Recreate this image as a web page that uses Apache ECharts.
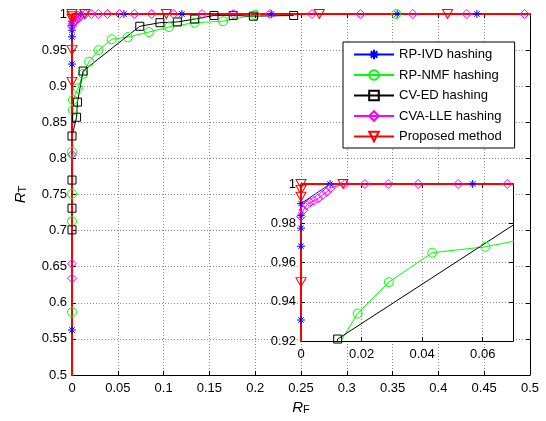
<!DOCTYPE html>
<html><head><meta charset="utf-8">
<script src="https://cdn.jsdelivr.net/npm/echarts@6/dist/echarts.min.js"></script>
<style>html,body{margin:0;padding:0;background:#fff}#c{width:546px;height:421px}</style>
</head><body><div id="c"></div>
<script>
// ---- data ----
const ivdRF = [0, 0, 0, 0, 0, 0, 0.0096, 0.0567, 0.12, 0.218, 0.355, 0.442];
const ivdRT = [0.5623, 0.9307, 0.9683, 0.9775, 0.984, 0.99, 1, 1, 1, 1, 1, 1];

const nmfRF = [0, 0, 0, 0, 0.001, 0.001, 0.0065, 0.012, 0.0187, 0.029, 0.0433, 0.0609, 0.084, 0.106, 0.134, 0.165, 0.2, 0.354];
const nmfRT = [0.587, 0.713, 0.751, 0.809, 0.867, 0.881, 0.897, 0.917, 0.934, 0.95, 0.965, 0.968, 0.975, 0.982, 0.988, 0.99, 0.999, 1];

const edRF = [0, 0, 0, 0, 0.005, 0.006, 0.0121, 0.074, 0.096, 0.115, 0.134, 0.155, 0.176, 0.198, 0.242];
const edRT = [0.701, 0.731, 0.77, 0.831, 0.857, 0.878, 0.921, 0.983, 0.988, 0.989, 0.993, 0.998, 0.998, 0.997, 0.998];

const lleRF = [0, 0, 0, 0, 0.0008, 0.0019, 0.003, 0.0043, 0.0057, 0.0072, 0.0085, 0.0098, 0.0145, 0.0211, 0.0288, 0.0387, 0.0519, 0.0681, 0.087, 0.111, 0.142, 0.176, 0.216, 0.262, 0.315, 0.372, 0.431, 0.494];
const lleRT = [0.634, 0.654, 0.805, 0.9834, 0.9867, 0.9893, 0.9906, 0.9914, 0.9927, 0.9944, 0.996, 0.998, 1, 1, 1, 1, 1, 1, 1, 1, 1, 1, 1, 1, 1, 1, 1, 1];

const propRF = [0, 0, 0, 0, 0, 0, 0.0139, 0.103, 0.27, 0.41, 1];
const propRT = [0.45, 0.906, 0.95, 0.9935, 0.997, 1, 1, 1, 1, 1, 1];

const names = ['RP-IVD hashing', 'RP-NMF hashing', 'CV-ED hashing', 'CVA-LLE hashing', 'Proposed method'];

const mainXTicks = { min: 0, max: 0.5, interval: 0.05 };
const mainYTicks = { min: 0.5, max: 1, interval: 0.05 };
const insetXTicks = { min: 0, max: 0.07, interval: 0.02 };
const insetYTicks = { min: 0.92, max: 1, interval: 0.02 };

// ---- chart ----
const FONT = 'Liberation Sans';
const star = 'path://M5,0L5,10M0,5L10,5M1.6,1.6L8.4,8.4M1.6,8.4L8.4,1.6';
const defs = [
  { rf: ivdRF, rt: ivdRT, color: '#0000ff', symbol: star, size: 8, rot: 0 },
  { rf: nmfRF, rt: nmfRT, color: '#00ff00', symbol: 'circle', size: 9, rot: 0 },
  { rf: edRF, rt: edRT, color: '#000000', symbol: 'rect', size: 8, rot: 0 },
  { rf: lleRF, rt: lleRT, color: '#ff00ff', symbol: 'diamond', size: [9, 9], rot: 0 },
  { rf: propRF, rt: propRT, color: '#ff0000', symbol: 'triangle', size: [10, 9], rot: 180 }
];

function mkSeries(d, i, inset) {
  return {
    type: 'line', name: names[i],
    xAxisIndex: inset ? 2 : 0, yAxisIndex: inset ? 2 : 0,
    data: d.rf.map((x, k) => [x, d.rt[k]]),
    symbol: d.symbol, symbolSize: d.size, symbolRotate: d.rot,
    showAllSymbol: true, clip: true, silent: true,
    lineStyle: { color: d.color, width: i === 4 ? 2 : 1 },
    itemStyle: { color: 'rgba(0,0,0,0)', borderColor: d.color, borderWidth: 1 },
    emphasis: { disabled: true },
    z: inset ? 7 : 2
  };
}

const grid = { color: '#8c8c8c', type: [1, 2], width: 1 };
function axis(type, gi, ticks, pos, labels, z, extra) {
  return Object.assign({
    type: 'value', gridIndex: gi, position: pos,
    min: ticks.min, max: ticks.max, interval: ticks.interval,
    axisLine: { show: true, onZero: false, lineStyle: { color: '#000', width: 1 } },
    axisTick: { show: true, inside: true, length: 4, lineStyle: { color: '#000' } },
    axisLabel: { show: labels, color: '#000', fontSize: 13, fontFamily: FONT, margin: type === 'x' ? 7 : 5, showMaxLabel: !(gi === 1 && type === 'x') },
    splitLine: { show: labels, showMinLine: false, showMaxLine: false, lineStyle: grid },
    z: z
  }, extra || {});
}

const nameRich = {
  r: { fontStyle: 'italic', fontSize: 15, fontFamily: FONT, color: '#000', padding: [0, 0, 4, 0] },
  s: { fontSize: 11, fontFamily: FONT, color: '#000' }
};

const option = {
  animation: false,
  backgroundColor: '#fff',
  grid: [
    { left: 72, top: 14, width: 458, height: 361 },
    { left: 301, top: 184, width: 212, height: 157, show: true, backgroundColor: '#fff', borderWidth: 0, z: 5 }
  ],
  legend: {
    orient: 'vertical', left: 343, top: 42, z: 20,
    padding: [6, 13, 5, 10], itemWidth: 40, itemHeight: 12, itemGap: 7.5,
    backgroundColor: '#fff', borderColor: '#000', borderWidth: 1, borderRadius: 0,
    textStyle: { fontSize: 13, color: '#000', fontFamily: FONT },
    data: names, selectedMode: false
  },
  xAxis: [
    axis('x', 0, mainXTicks, 'bottom', true, 0, { name: '{r|R}{s|F}', nameLocation: 'middle', nameGap: 25, nameTextStyle: { rich: nameRich } }),
    axis('x', 0, mainXTicks, 'top', false, 0),
    axis('x', 1, insetXTicks, 'bottom', true, 6),
    axis('x', 1, insetXTicks, 'top', false, 6)
  ],
  yAxis: [
    axis('y', 0, mainYTicks, 'left', true, 0, { name: '{r|R}{s|T}', nameLocation: 'middle', nameGap: 40, nameRotate: 90, nameTextStyle: { rich: nameRich } }),
    axis('y', 0, mainYTicks, 'right', false, 0),
    axis('y', 1, insetYTicks, 'left', true, 6),
    axis('y', 1, insetYTicks, 'right', false, 6)
  ],
  series: defs.map((d, i) => mkSeries(d, i, false)).concat(defs.map((d, i) => mkSeries(d, i, true)))
};

const chart = echarts.init(document.getElementById('c'), null, { renderer: 'canvas' });
chart.setOption(option);
</script>
</body></html>
